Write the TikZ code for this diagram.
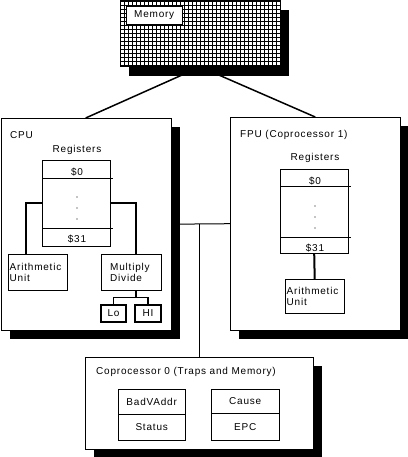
\documentclass[tikz,border=0pt]{standalone}
\usepackage{fontspec}
\setmainfont{Liberation Sans}[LetterSpace=8]
\usetikzlibrary{shadows,backgrounds}
\colorlet{box edge}{black}
\colorlet{box area}{white}
\tikzset{unit/.style={draw=box edge, fill=box area, inner sep=0pt, anchor=north west},
    shadowed/.style={unit, drop shadow={shadow xshift=9pt, shadow yshift=-9pt, fill=black, opacity=1}},
    wh/.style 2 args={minimum width=#1pt, minimum height=#2pt},
    caption/.style={anchor=west, inner sep=0pt},
    wire/.style={draw=box edge, line width=2pt},
    bus/.style={draw=box edge, line width=1pt}}

\begin{document}
\begin{tikzpicture}[x=1pt, y=-1pt, font=\fontsize{10}{10.5}\selectfont]
    \useasboundingbox (0,0) rectangle (407,457);
    % memory
    \node[shadowed, wh={160}{66}, path picture={
        \draw[step=4pt, line width=0.8pt] (path picture bounding box.south west) grid (path picture bounding box.north east);}]
        (memory) at (120,0.5) {};
    \node[unit, wh={56}{18}] (memname) at (126,6) {Memory};
    % cpu
    \node[shadowed, wh={170}{212}] (cpu) at (0.5,118) {};
    \node[caption] (cpuname) at (10,135) {CPU};
    \node (cpuregname) at (77,150) {Registers};
    \node[unit, wh={68}{86}] (cpureg) at (42,160) {};
    \draw (cpureg.north west) ++(0,18) -- ++(71,0);
    \draw (cpureg.south west) ++(0,-18) -- ++(71,0);
    \node (cpufirst) at (77,172) {\$0};
    \node (cpulast)  at (77,239) {\$31};
    \foreach \y in {197,208,219}
        \fill (77,\y) circle (0.6pt);
    \node[unit, wh={59}{36}, text width=56pt, align=left] (cpuarith) at (8,254) {Arithmetic\\Unit};
    \node[unit, wh={60}{36}, text width=42pt, align=left] (cpumul) at (101,254) {Multiply\\Divide};
    \node[unit, wh={25}{17}, line width=2pt] (lo) at (100,304) {Lo};
    \node[unit, wh={26}{17}, line width=2pt] (hi) at (134,304) {HI};
    \draw[wire] (cpureg.west) -| ([xshift=-12pt]cpuarith.north);
    \draw[wire] (cpureg.east) -| ([xshift=5pt]cpumul.north);
    \draw[line width=1.5pt] ([xshift=5pt]cpumul.south) -- ++(0,7) -| (lo.north);
    \draw[line width=1.5pt] ([xshift=5pt]cpumul.south) ++(0,7) -| (hi.north);
    % fpu
    \node[shadowed, wh={170}{213}] (fpu) at (230,117) {};
    \node[caption] (fpuname) at (240,135) {FPU (Coprocessor 1)};
    \node (fpuregname) at (315,158) {Registers};
    \node[unit, wh={68}{84}] (fpureg) at (280,169) {};
    \draw (fpureg.north west) ++(0,17) -- ++(71,0);
    \draw (fpureg.south west) ++(0,-16) -- ++(71,0);
    \node (fpufirst) at (315,181) {\$0};
    \node (fpulast)  at (315,248) {\$31};
    \foreach \y in {206,217,228}
        \fill (315,\y) circle (0.6pt);
    \node[unit, wh={59}{34}, text width=56pt, align=left] (fpuarith) at (285,279) {Arithmetic\\Unit};
    \draw[wire] (fpureg.south) -- (fpuarith.north);
    % coprocessor 0
    \node[shadowed, wh={228}{92}] (cop) at (85,357) {};
    \node[caption] (copname) at (96,372) {Coprocessor 0 (Traps and Memory)};
    \node[unit, wh={67}{25}] (badvaddr) at (118,389) {BadVAddr};
    \node[unit, wh={67}{26}] (status) at (118,414) {Status};
    \node[unit, wh={68}{24}] (cause) at (211,389) {Cause};
    \node[unit, wh={68}{27}] (epc) at (211,413) {EPC};
    % connections behind the shadows
    \begin{scope}[on background layer]
        \draw[line width=1.5pt] (memory.south) -- (cpu.north);
        \draw[line width=1.5pt] (memory.south) -- (fpu.north);
        \draw[bus] (cpu.east) -- (fpu.west);
        \draw[bus] (cop.north) -- (cop.north |- cpu.east);
    \end{scope}
\end{tikzpicture}
\end{document}
